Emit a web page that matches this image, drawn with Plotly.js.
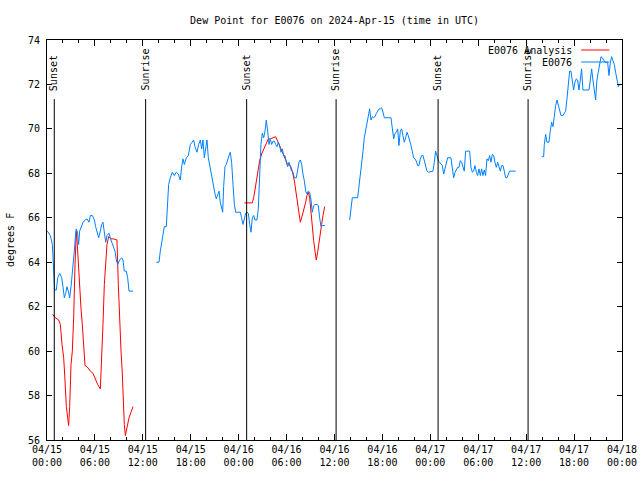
<!DOCTYPE html>
<html>
<head>
<meta charset="utf-8">
<script src="https://cdn.plot.ly/plotly-3.0.1.min.js"></script>
<style>html,body{margin:0;padding:0;background:#fff;}#chart{width:640px;height:480px;}</style>
</head>
<body>
<div id="chart"></div>
<script>
// Hours since 2024-04-15 00:00 UTC, dew point in degrees F
var obsHours = [
 0.00,0.42,0.67,0.83,0.96,1.17,1.34,1.59,1.84,2.00,2.17,2.34,2.50,2.67,2.84,3.01,3.13,3.26,3.42,3.59,3.67,3.84,3.96,4.09,4.26,4.51,4.80,5.01,5.26,5.43,5.68,5.93,6.09,6.26,6.47,6.68,6.84,7.01,7.18,7.35,7.51,7.76,8.01,8.26,8.51,8.68,8.85,9.10,9.35,9.52,9.68,9.93,10.10,10.27,10.77,
 null,
 13.69,14.02,14.19,14.44,14.69,14.94,15.07,15.23,15.44,15.69,15.94,16.19,16.44,16.69,16.86,17.03,17.20,17.45,17.70,
 17.95,18.16,18.36,18.53,18.78,18.99,19.20,19.37,19.53,19.70,19.87,20.03,20.20,20.37,20.53,20.70,20.87,21.04,21.20,21.37,21.54,21.70,21.87,22.00,22.12,22.29,22.45,22.62,22.79,22.95,23.12,23.29,23.46,23.62,23.96,24.21,24.37,24.54,24.71,24.87,25.04,25.21,25.38,25.54,25.71,25.88,26.04,26.29,26.46,26.63,26.79,26.96,27.13,27.30,27.46,27.63,27.80,27.96,28.13,28.30,28.46,28.63,28.80,28.96,29.13,29.30,29.47,29.63,29.80,29.97,30.13,30.30,30.47,30.63,30.80,30.97,31.22,31.39,31.55,31.72,31.89,32.05,32.22,32.39,32.55,32.72,32.89,33.06,33.22,33.39,33.56,33.81,33.97,34.14,34.31,34.47,34.81,
 null,
 37.90,37.98,38.06,38.23,38.90,39.07,39.23,39.40,39.57,39.73,39.90,40.07,40.23,40.40,40.57,40.73,40.90,41.07,41.24,41.40,41.57,41.74,41.90,42.07,42.24,43.07,43.24,43.41,43.57,43.74,43.91,44.07,44.24,44.41,44.57,44.74,44.91,45.08,45.24,45.41,45.58,45.74,45.91,46.08,46.24,46.41,46.58,46.74,46.91,47.08,47.25,47.41,47.58,47.75,48.33,48.50,48.66,48.83,49.00,49.17,49.33,49.50,49.67,49.83,50.00,50.17,50.58,50.75,50.92,51.09,51.25,51.42,51.59,51.75,51.92,52.09,52.25,52.42,52.92,53.09,53.26,53.42,53.59,53.76,53.92,54.09,54.26,54.42,54.59,54.76,54.92,
 55.09,55.26,55.43,55.59,55.76,55.93,56.09,56.26,56.43,56.59,56.76,56.93,57.10,57.26,57.43,57.60,57.76,57.93,58.68,
 null,
 61.94,62.19,62.27,62.44,62.60,62.85,63.02,63.19,63.36,63.52,63.69,63.86,64.02,64.19,64.36,64.61,64.77,64.94,65.11,65.28,65.44,65.61,65.78,65.94,66.11,66.28,66.44,66.61,66.78,66.94,67.11,67.86,68.03,68.20,68.36,68.53,68.70,68.86,69.03,69.20,69.37,69.53,69.70,69.87,70.20,70.37,70.53,70.70,70.87,71.03,71.20,71.37,71.54,71.70
];
var obsDewPoint = [
 65.42,65.2,64.8,63.3,62.75,62.75,63.3,63.5,63.3,62.9,62.4,62.6,62.9,62.7,62.4,62.9,63.3,63.9,64.5,65.3,65.5,65.3,64.8,65.4,65.6,65.8,65.9,65.95,65.8,66.1,66.1,65.9,65.6,65.35,65.1,65.4,65.7,65.8,65.3,64.9,65.2,65.3,65.0,64.7,64.5,64.1,63.9,64.1,64.2,64.1,63.6,63.6,63.3,62.7,62.7,
 null,
 64.0,64.0,64.5,65.0,65.6,65.6,66.8,67.5,67.8,68.05,67.9,68.05,67.97,67.7,68.3,68.65,68.4,68.7,68.8,
 69.3,69.4,69.5,69.2,68.95,69.3,69.5,69.1,69.5,68.7,69.25,69.5,68.7,68.35,67.97,67.6,67.3,67.07,66.85,67.07,67.2,66.7,66.5,66.25,67.4,68.3,68.4,68.65,68.8,68.95,68.5,67.5,66.6,66.25,66.25,66.25,66.0,65.7,65.95,66.2,66.25,66.2,65.7,65.35,66.0,66.1,65.9,65.9,66.4,68.4,69.3,69.8,69.6,69.9,70.4,69.9,69.3,69.55,69.3,69.45,69.45,69.3,69.2,69.4,69.25,68.95,69.1,68.8,68.8,68.5,68.3,68.5,68.3,68.1,68.05,67.8,67.8,68.1,68.5,68.6,68.4,67.97,67.67,67.2,67.07,67.2,67.15,66.8,66.25,66.55,66.6,66.6,66.55,66.0,65.6,65.65,65.65,
 null,
 65.9,66.2,66.6,66.9,66.9,67.4,67.8,68.35,69.0,69.6,69.9,70.2,70.5,70.9,70.4,70.55,70.5,70.55,70.7,70.8,70.9,70.9,70.95,70.75,70.5,70.5,70.0,69.55,69.8,69.85,70.0,69.25,69.9,70.0,69.7,69.4,69.6,69.85,69.7,69.4,69.25,69.0,68.7,68.65,68.55,68.35,68.35,68.65,68.8,68.8,68.55,68.35,68.1,68.05,68.1,68.5,69.0,68.8,68.55,68.5,68.4,68.35,67.97,68.2,68.5,68.7,68.7,68.27,67.8,68.05,68.2,68.27,68.27,68.57,68.5,68.27,68.1,69.0,69.0,68.27,68.05,68.1,68.35,68.05,67.9,68.2,67.9,68.2,67.9,68.15,67.9,
 68.65,68.57,68.8,68.5,68.85,68.8,68.5,68.27,68.5,68.35,68.1,68.35,68.35,68.1,67.8,67.8,67.97,68.1,68.1,
 null,
 68.75,68.75,69.3,69.75,69.4,69.4,69.9,70.3,70.1,70.7,71.05,71.3,71.1,70.8,70.6,70.6,70.7,70.8,71.35,71.9,72.6,72.6,72.2,71.75,72.1,72.25,72.2,71.75,72.2,72.7,71.75,71.75,72.2,72.7,72.2,71.7,71.3,72.2,72.55,72.9,73.25,73.2,73.1,73.0,73.0,72.4,72.95,73.25,73.07,72.9,72.55,72.1,71.9,72.0
];
var anaHours = [
 0.71,1.04,1.46,1.67,1.88,2.09,2.25,2.42,2.59,2.71,2.84,3.01,3.17,3.34,3.51,3.67,3.76,3.92,4.09,4.26,4.42,4.59,4.76,5.01,5.43,5.76,6.05,6.34,6.68,6.84,7.01,7.18,7.35,7.51,7.72,8.01,8.35,8.76,8.93,9.10,9.27,9.43,9.52,9.68,9.81,10.02,10.27,10.52,10.77,
 null,
 24.71,25.71,25.88,26.13,26.29,26.46,26.63,26.88,27.13,27.38,27.71,27.96,28.30,28.63,28.88,29.13,29.38,29.63,29.88,30.13,30.47,30.72,30.97,31.22,31.39,31.55,31.72,31.89,32.14,32.39,32.55,32.72,32.89,33.06,33.22,33.39,33.56,33.72,33.89,34.06,34.22,34.39,34.56,34.77
];
var anaDewPoint = [
 61.65,61.5,61.4,61.2,60.3,59.7,58.7,57.5,57.0,56.65,57.5,59.4,60.0,61.5,63.9,65.4,65.0,63.9,63.0,61.9,61.2,60.0,59.35,59.3,59.1,59.0,58.7,58.5,58.3,59.4,61.2,63.0,64.2,64.8,65.15,65.05,65.05,65.0,63.0,61.2,60.0,59.0,57.85,56.7,56.2,56.6,57.0,57.25,57.5,
 null,
 66.67,66.67,66.9,67.5,67.97,68.27,68.57,68.87,69.1,69.3,69.55,69.55,69.6,69.65,69.45,69.25,69.0,68.8,68.57,68.4,68.35,68.1,67.67,67.07,66.6,66.2,65.8,66.0,66.3,66.7,67.0,67.15,66.9,66.2,65.4,64.97,64.5,64.1,64.45,64.97,65.4,65.7,66.1,66.5
];
var sunHours = [0.91, 12.35, 25.0, 36.2, 48.97, 60.24];
var sunLabels = ['Sunset', 'Sunrise', 'Sunset', 'Sunrise', 'Sunset', 'Sunrise'];
var seriesNames = ['E0076 Analysis', 'E0076'];
var seriesColors = ['#ff0000', '#0080ff'];
var yTicks = [56, 58, 60, 62, 64, 66, 68, 70, 72, 74];

var BASE = Date.UTC(2024, 3, 15, 0, 0, 0);
function toDate(h) {
  if (h === null) return null;
  return new Date(BASE + h * 3600000).toISOString().replace('T', ' ').replace('Z', '');
}

var FONT = 'DejaVu Sans Mono, monospace';
var traces = [
  {x: anaHours.map(toDate), y: anaDewPoint, mode: 'lines', name: seriesNames[0],
   line: {color: seriesColors[0], width: 1}, connectgaps: false},
  {x: obsHours.map(toDate), y: obsDewPoint, mode: 'lines', name: seriesNames[1],
   line: {color: seriesColors[1], width: 1}, connectgaps: false}
];

var shapes = [];
var annotations = [];
sunHours.forEach(function (h, i) {
  shapes.push({type: 'line', xref: 'x', yref: 'y', x0: toDate(h), x1: toDate(h), y0: 56, y1: 71.34,
    line: {color: '#000', width: 1}});
  annotations.push({xref: 'x', yref: 'y', x: toDate(h), y: 71.62, text: sunLabels[i], showarrow: false,
    textangle: -90, xanchor: 'center', yanchor: 'bottom', font: {family: FONT, size: 10, color: '#000'}});
});
// legend (text right, sample line on right)
var legY = [0.975, 0.945];
seriesNames.forEach(function (n, i) {
  annotations.push({xref: 'paper', yref: 'paper', x: 0.9165, y: legY[i], text: n, showarrow: false,
    xanchor: 'right', yanchor: 'middle', font: {family: FONT, size: 10, color: '#000'}});
  shapes.push({type: 'line', xref: 'paper', yref: 'paper', x0: 0.929, x1: 0.978, y0: legY[i], y1: legY[i],
    line: {color: seriesColors[i], width: 1}});
});
annotations.push({xref: 'paper', yref: 'paper', x: -0.0643, y: 0.5, text: 'degrees F', showarrow: false,
  textangle: -90, xanchor: 'center', yanchor: 'middle', font: {family: FONT, size: 10, color: '#000'}});

var layout = {
  width: 640, height: 480,
  margin: {l: 47, r: 18, t: 40, b: 40, pad: 0},
  paper_bgcolor: '#fff', plot_bgcolor: '#fff',
  showlegend: false,
  font: {family: FONT, size: 10, color: '#000'},
  title: {text: 'Dew Point for E0076 on 2024-Apr-15 (time in UTC)', x: 0.5228, xref: 'container', xanchor: 'center',
    y: 0.958, yref: 'container', yanchor: 'middle', font: {family: FONT, size: 10, color: '#000'}},
  xaxis: {
    type: 'date', range: [toDate(0), toDate(72)], autorange: false,
    tick0: toDate(0), dtick: 6 * 3600000, tickformat: '%m/%d<br>%H:%M',
    ticks: 'inside', ticklen: 6, tickcolor: '#000', tickwidth: 1,
    minor: {dtick: 2 * 3600000, ticks: 'inside', ticklen: 3, tickcolor: '#000', showgrid: false},
    showline: true, linecolor: '#000', linewidth: 1, mirror: 'allticks',
    showgrid: false, zeroline: false,
    tickfont: {family: FONT, size: 10, color: '#000'}
  },
  yaxis: {
    range: [56, 74], autorange: false, tickvals: yTicks,
    ticks: 'inside', ticklen: 5, tickcolor: '#000', tickwidth: 1,
    showline: true, linecolor: '#000', linewidth: 1, mirror: 'allticks',
    showgrid: false, zeroline: false, ticklabelstandoff: 4,
    tickfont: {family: FONT, size: 10, color: '#000'}
  },
  shapes: shapes,
  annotations: annotations
};

Plotly.newPlot('chart', traces, layout, {staticPlot: true, displayModeBar: false});
</script>
</body>
</html>
